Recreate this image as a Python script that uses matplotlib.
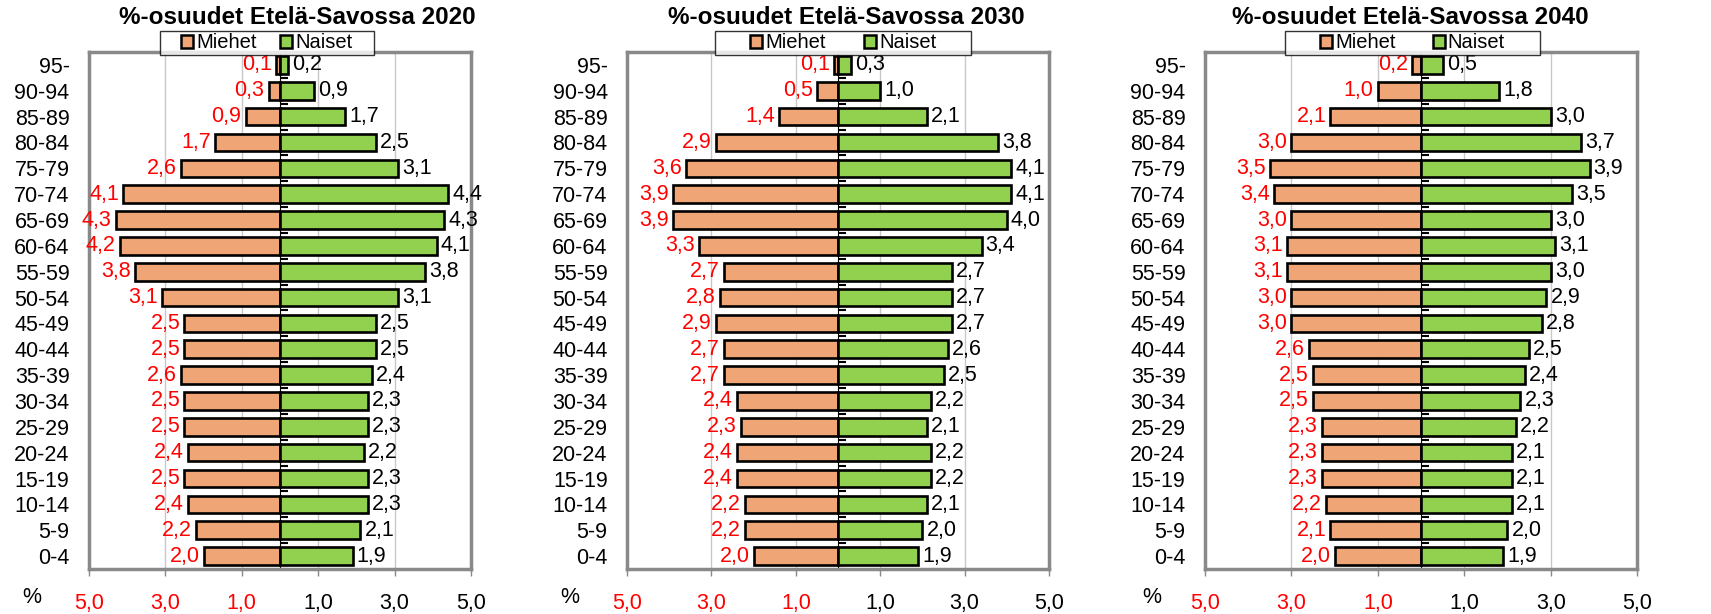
import numpy as np
import matplotlib
matplotlib.use('Agg')
import matplotlib.pyplot as plt
from matplotlib.path import Path

plt.rcParams['font.family'] = ['Liberation Sans', 'DejaVu Sans']

ages = ['0-4', '5-9', '10-14', '15-19', '20-24', '25-29', '30-34', '35-39', '40-44', '45-49',
        '50-54', '55-59', '60-64', '65-69', '70-74', '75-79', '80-84', '85-89', '90-94', '95-']

# values listed from 0-4 up to 95-
men_2020 = [2.0, 2.2, 2.4, 2.5, 2.4, 2.5, 2.5, 2.6, 2.5, 2.5, 3.1, 3.8, 4.2, 4.3, 4.1, 2.6, 1.7, 0.9, 0.3, 0.1]
women_2020 = [1.9, 2.1, 2.3, 2.3, 2.2, 2.3, 2.3, 2.4, 2.5, 2.5, 3.1, 3.8, 4.1, 4.3, 4.4, 3.1, 2.5, 1.7, 0.9, 0.2]
men_2030 = [2.0, 2.2, 2.2, 2.4, 2.4, 2.3, 2.4, 2.7, 2.7, 2.9, 2.8, 2.7, 3.3, 3.9, 3.9, 3.6, 2.9, 1.4, 0.5, 0.1]
women_2030 = [1.9, 2.0, 2.1, 2.2, 2.2, 2.1, 2.2, 2.5, 2.6, 2.7, 2.7, 2.7, 3.4, 4.0, 4.1, 4.1, 3.8, 2.1, 1.0, 0.3]
men_2040 = [2.0, 2.1, 2.2, 2.3, 2.3, 2.3, 2.5, 2.5, 2.6, 3.0, 3.0, 3.1, 3.1, 3.0, 3.4, 3.5, 3.0, 2.1, 1.0, 0.2]
women_2040 = [1.9, 2.0, 2.1, 2.1, 2.1, 2.2, 2.3, 2.4, 2.5, 2.8, 2.9, 3.0, 3.1, 3.0, 3.5, 3.9, 3.7, 3.0, 1.8, 0.5]

years = ['2020', '2030', '2040']
men = [men_2020, men_2030, men_2040]
women = [women_2020, women_2030, women_2040]
xticks = [-5, -3, -1, 1, 3, 5]

orange = '#F0A576'
green = '#92D050'
fs = 15.5

# axes rects in figure fraction, plus title / legend / "%" x positions in axes coords
rects = [[0.0520, 0.0733, 0.2233, 0.842],
         [0.3665, 0.0733, 0.2466, 0.842],
         [0.7043, 0.0733, 0.2525, 0.842]]
title_x = [0.545, 0.519, 0.475]
leg_x = [0.465, 0.512, 0.48]
leg_colsp = [1.15, 1.9, 1.85]
leg_padx = [0.95, 1.6, 1.6]
pct_x = [-0.149, -0.135, -0.123]


def comma(v):
    return ('%.1f' % abs(v)).replace('.', ',')


def make_box(padx):
    # legend frame: wider side padding than top/bottom, like the Excel legend
    def box(x0, y0, width, height, mutation_size):
        px = padx * mutation_size
        return Path([(x0 - px, y0), (x0 + width + px, y0), (x0 + width + px, y0 + height),
                     (x0 - px, y0 + height), (x0 - px, y0)], closed=True)
    return box


fig = plt.figure(figsize=(17.11, 6.14), dpi=100)

for i in range(3):
    ax = fig.add_axes(rects[i])
    y = np.arange(len(ages))
    m = -np.array(men[i])
    w = np.array(women[i])
    bm = ax.barh(y, m, height=0.68, color=orange, edgecolor='black', linewidth=1.9, label='Miehet', zorder=3)
    bw = ax.barh(y, w, height=0.68, color=green, edgecolor='black', linewidth=1.9, label='Naiset', zorder=3)
    ax.bar_label(bm, labels=[comma(v) for v in m], padding=3, color='red', fontsize=fs)
    ax.bar_label(bw, labels=[comma(v) for v in w], padding=3, color='black', fontsize=fs)

    ax.set_xlim(-5, 5)
    ax.set_ylim(-0.5, len(ages) - 0.5)
    ax.set_xticks(xticks)
    ax.set_xticklabels([comma(v) for v in xticks], fontsize=fs)
    for k, lab in enumerate(ax.get_xticklabels()):
        lab.set_color('red' if xticks[k] < 0 else 'black')
    ax.tick_params(axis='x', length=5, width=1, color='#898989', pad=12)
    ax.set_yticks(y)
    ax.set_yticklabels(ages, fontsize=fs)
    ax.tick_params(axis='y', length=0, pad=14)
    ax.grid(axis='x', color='#c8c8c8', linewidth=1, zorder=0)
    ax.set_axisbelow(True)
    for s in ax.spines.values():
        s.set_color('#898989')
        s.set_linewidth(2.5)

    # vertical axis line at zero with category tick marks
    sec = ax.secondary_yaxis(0.5)
    sec.set_yticks(np.arange(-0.5, len(ages), 1))
    sec.set_yticklabels([])
    sec.spines['left'].set_linewidth(2)
    sec.spines['left'].set_color('black')
    sec.tick_params(axis='y', length=6, width=1.5, direction='out', color='black')

    ax.text(title_x[i], 1.066, '%-osuudet Etelä-Savossa ' + years[i], transform=ax.transAxes,
            ha='center', va='center', fontsize=17.5, fontweight='bold')
    ax.text(pct_x[i], -0.056, '%', transform=ax.transAxes, ha='center', va='center', fontsize=fs)

    leg = ax.legend(loc='upper center', bbox_to_anchor=(leg_x[i], 1.041), ncol=2, fontsize=14.5,
                    frameon=True, fancybox=False, edgecolor='black', handlelength=0.6,
                    handleheight=0.6, handletextpad=0.15, columnspacing=leg_colsp[i],
                    borderpad=0.12, borderaxespad=0)
    leg.get_frame().set_linewidth(1)
    leg.get_frame().set_boxstyle(make_box(leg_padx[i]))
    leg.set_zorder(10)
    for h in leg.legend_handles:
        h.set_linewidth(1.8)

fig.savefig('out.png', dpi=100)
